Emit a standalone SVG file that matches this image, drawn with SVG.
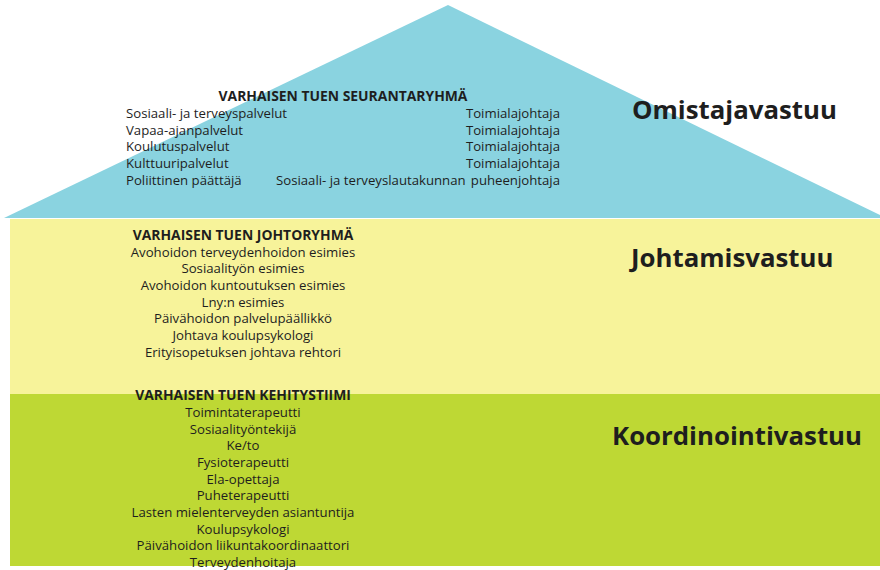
<svg xmlns="http://www.w3.org/2000/svg" width="880" height="570" viewBox="0 0 880 570">
<style>
.t{font-family:"Open Sans","Noto Sans","DejaVu Sans",sans-serif;font-size:13.2px;fill:#1e1e1e}
.h{font-family:"Open Sans","Noto Sans","DejaVu Sans",sans-serif;font-size:13.9px;font-weight:bold;fill:#1e1e1e}
.big{font-family:"Open Sans","Noto Sans","DejaVu Sans",sans-serif;font-size:25.8px;font-weight:bold;fill:#1e1e1e}
.c{text-anchor:middle}
.r{text-anchor:end}
</style>
<rect width="880" height="570" fill="#ffffff"/>
<g id="roof">
<polygon points="4,218 448,5 886,218" fill="#8AD3E0"/>
<text class="h c" x="343" y="101">VARHAISEN TUEN SEURANTARYHMÄ</text>
<text class="t" x="126" y="118">Sosiaali- ja terveyspalvelut</text>
<text class="t" x="126" y="135">Vapaa-ajanpalvelut</text>
<text class="t" x="126" y="151">Koulutuspalvelut</text>
<text class="t" x="126" y="168">Kulttuuripalvelut</text>
<text class="t" x="126" y="185">Poliittinen päättäjä</text>
<text class="t" x="276" y="185">Sosiaali- ja terveyslautakunnan</text>
<text class="t r" x="560" y="118">Toimialajohtaja</text>
<text class="t r" x="560" y="135">Toimialajohtaja</text>
<text class="t r" x="560" y="151">Toimialajohtaja</text>
<text class="t r" x="560" y="168">Toimialajohtaja</text>
<text class="t r" x="560" y="185">puheenjohtaja</text>
<text class="big" x="632" y="119">Omistajavastuu</text>
</g>
<g id="johtamis">
<rect x="10" y="219" width="870" height="175" fill="#F7F39A"/>
<text class="h c" x="243" y="240">VARHAISEN TUEN JOHTORYHMÄ</text>
<text class="t c" x="243" y="257">Avohoidon terveydenhoidon esimies</text>
<text class="t c" x="243" y="273">Sosiaalityön esimies</text>
<text class="t c" x="243" y="290">Avohoidon kuntoutuksen esimies</text>
<text class="t c" x="243" y="307">Lny:n esimies</text>
<text class="t c" x="243" y="323">Päivähoidon palvelupäällikkö</text>
<text class="t c" x="243" y="340">Johtava koulupsykologi</text>
<text class="t c" x="243" y="357">Erityisopetuksen johtava rehtori</text>
<text class="big" x="631" y="267">Johtamisvastuu</text>
</g>
<g id="koordinointi">
<rect x="10" y="394" width="870" height="172" fill="#BED834"/>
<text class="h c" x="243" y="400">VARHAISEN TUEN KEHITYSTIIMI</text>
<text class="t c" x="243" y="417">Toimintaterapeutti</text>
<text class="t c" x="243" y="434">Sosiaalityöntekijä</text>
<text class="t c" x="243" y="450">Ke/to</text>
<text class="t c" x="243" y="467">Fysioterapeutti</text>
<text class="t c" x="243" y="484">Ela-opettaja</text>
<text class="t c" x="243" y="500">Puheterapeutti</text>
<text class="t c" x="243" y="517">Lasten mielenterveyden asiantuntija</text>
<text class="t c" x="243" y="534">Koulupsykologi</text>
<text class="t c" x="243" y="550">Päivähoidon liikuntakoordinaattori</text>
<text class="t c" x="243" y="567">Terveydenhoitaja</text>
<text class="big" x="612" y="445">Koordinointivastuu</text>
</g>
<g id="connectors"/>
</svg>
